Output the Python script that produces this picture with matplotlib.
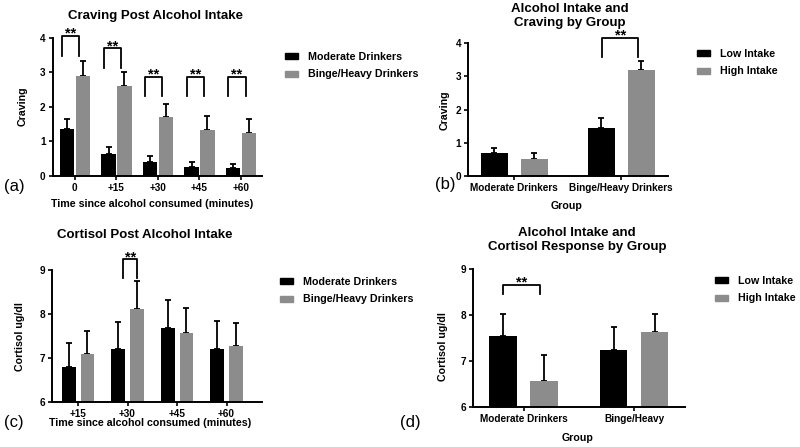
import numpy as np
import matplotlib.pyplot as plt
from matplotlib.patches import Patch

plt.rcParams['font.family'] = ['Liberation Sans', 'DejaVu Sans']
plt.rcParams['font.weight'] = 'bold'

W, H = 800, 447
GREY = '#8c8c8c'

# (a) craving after alcohol, by time point
times_a = ['0', '+15', '+30', '+45', '+60']
crave_mod = [1.35, 0.63, 0.39, 0.25, 0.21]
crave_mod_err = [0.28, 0.21, 0.17, 0.16, 0.14]
crave_binge = [2.89, 2.59, 1.69, 1.32, 1.25]
crave_binge_err = [0.44, 0.42, 0.40, 0.41, 0.38]
sig_top_a = [4.06, 3.69, 2.87, 2.87, 2.87]
sig_base_a = [3.48, 3.13, 2.32, 2.32, 2.32]

# (b) craving by group and intake
groups_b = ['Moderate Drinkers', 'Binge/Heavy Drinkers']
crave_low = [0.68, 1.43]
crave_low_err = [0.16, 0.31]
crave_high = [0.49, 3.18]
crave_high_err = [0.19, 0.28]

# (c) cortisol after alcohol, by time point
times_c = ['+15', '+30', '+45', '+60']
cort_mod = [6.78, 7.21, 7.67, 7.20]
cort_mod_err = [0.55, 0.61, 0.64, 0.64]
cort_binge = [7.08, 8.12, 7.57, 7.27]
cort_binge_err = [0.52, 0.63, 0.57, 0.53]

# (d) cortisol by group and intake
groups_d = ['Moderate Drinkers', 'Binge/Heavy']
cort_low = [7.55, 7.23]
cort_low_err = [0.47, 0.50]
cort_high = [6.56, 7.64]
cort_high_err = [0.56, 0.39]


def fx(px):
    return px / W


def fy(py):
    return 1 - py / H


fig = plt.figure(figsize=(8, 4.47), dpi=100)


def add_ax(l, t, r, b):
    return fig.add_axes([fx(l), fy(b), fx(r) - fx(l), fy(t) - fy(b)])


def bars(ax, v1, e1, v2, e2, off, width):
    x = np.arange(len(v1))
    ax.bar(x - off, v1, width, color='black', zorder=2)
    ax.bar(x + off, v2, width, color=GREY, zorder=2)
    for xs, v, e in [(x - off, v1, e1), (x + off, v2, e2)]:
        eb = ax.errorbar(xs, v, yerr=[np.zeros(len(v)), e], fmt='none',
                         ecolor='black', elinewidth=1.3, capsize=2.5,
                         capthick=1.3, zorder=1)
        for art in list(eb.lines[1]) + list(eb.lines[2]):
            art.set_clip_on(False)


def style(ax, xlim, ylim, yticks, labels):
    for s in ['top', 'right']:
        ax.spines[s].set_visible(False)
    for s in ['left', 'bottom']:
        ax.spines[s].set_linewidth(1.4)
    ax.set_xlim(xlim)
    ax.set_ylim(ylim)
    ax.set_yticks(yticks)
    ax.set_xticks(range(len(labels)))
    ax.set_xticklabels(labels)
    ax.tick_params(length=3, width=1.2, labelsize=7.2, pad=2)


def bracket(ax, x1, x2, top, base):
    ax.plot([x1, x1, x2, x2], [base, top, top, base], color='black',
            lw=1.3, clip_on=False)
    ax.annotate('**', ((x1 + x2) / 2, top), xytext=(0, -1.5),
                textcoords='offset points', ha='center', va='baseline',
                fontsize=10.5, annotation_clip=False)


def legend(labels, x, y):
    handles = [Patch(color='black'), Patch(color=GREY)]
    fig.legend(handles, labels, loc='upper left',
               bbox_to_anchor=(fx(x), fy(y)), frameon=False, borderpad=0,
               borderaxespad=0, handlelength=1.25, handleheight=0.5,
               handletextpad=0.9, labelspacing=0.7, fontsize=7.7)


# panel (a)
ax = add_ax(52.5, 37.7, 261.7, 175.7)
bars(ax, crave_mod, crave_mod_err, crave_binge, crave_binge_err, 0.19, 0.35)
style(ax, (-0.54, 4.5), (0, 4), [0, 1, 2, 3, 4], times_a)
for i in range(len(times_a)):
    bracket(ax, i - 0.31, i + 0.11, sig_top_a[i], sig_base_a[i])
fig.text(fx(155), fy(16), 'Craving Post Alcohol Intake', ha='center', va='center', fontsize=9.5)
fig.text(fx(23), fy(106), 'Craving', rotation=90, ha='center', va='center', fontsize=7.7)
fig.text(fx(152), fy(204), 'Time since alcohol consumed (minutes)', ha='center', va='center', fontsize=7.7)
fig.text(fx(14), fy(187), '(a)', ha='center', va='center', fontsize=12, fontweight='normal')
legend(['Moderate Drinkers', 'Binge/Heavy Drinkers'], 285, 52)

# panel (b)
ax = add_ax(468.3, 43.3, 668.3, 175.7)
bars(ax, crave_low, crave_low_err, crave_high, crave_high_err, 0.1875, 0.25)
style(ax, (-0.43, 1.44), (0, 4), [0, 1, 2, 3, 4], groups_b)
bracket(ax, 1 - 0.18, 1 + 0.16, 4.17, 3.6)
fig.text(fx(570), fy(16), 'Alcohol Intake and\nCraving by Group', ha='center', va='center', fontsize=9.5, linespacing=1.2)
fig.text(fx(445), fy(110), 'Craving', rotation=90, ha='center', va='center', fontsize=7.7)
fig.text(fx(567), fy(206), 'Group', ha='center', va='center', fontsize=7.7)
fig.text(fx(445), fy(184), '(b)', ha='center', va='center', fontsize=12, fontweight='normal')
legend(['Low Intake', 'High Intake'], 697, 49)

# panel (c)
ax = add_ax(52.3, 270, 261.7, 401.7)
bars(ax, cort_mod, cort_mod_err, cort_binge, cort_binge_err, 0.19, 0.28)
style(ax, (-0.52, 3.71), (6, 9), [6, 7, 8, 9], times_c)
bracket(ax, 1 - 0.095, 1 + 0.2, 9.25, 8.82)
fig.text(fx(145), fy(235), 'Cortisol Post Alcohol Intake', ha='center', va='center', fontsize=9.5)
fig.text(fx(20), fy(337), 'Cortisol ug/dl', rotation=90, ha='center', va='center', fontsize=7.7)
fig.text(fx(150), fy(423), 'Time since alcohol consumed (minutes)', ha='center', va='center', fontsize=7.7)
fig.text(fx(14), fy(422), '(c)', ha='center', va='center', fontsize=12, fontweight='normal')
legend(['Moderate Drinkers', 'Binge/Heavy Drinkers'], 280, 277)

# panel (d)
ax = add_ax(472.7, 269.3, 685, 406.7)
bars(ax, cort_low, cort_low_err, cort_high, cort_high_err, 0.186, 0.248)
style(ax, (-0.46, 1.46), (6, 9), [6, 7, 8, 9], groups_d)
bracket(ax, -0.19, 0.15, 8.66, 8.45)
fig.text(fx(577), fy(240), 'Alcohol Intake and\nCortisol Response by Group', ha='center', va='center', fontsize=9.5, linespacing=1.2)
fig.text(fx(443), fy(347), 'Cortisol ug/dl', rotation=90, ha='center', va='center', fontsize=7.7)
fig.text(fx(578), fy(438), 'Group', ha='center', va='center', fontsize=7.7)
fig.text(fx(410), fy(423), '(d)', ha='center', va='center', fontsize=12, fontweight='normal')
legend(['Low Intake', 'High Intake'], 715, 276)

fig.savefig('out.png', dpi=100)
